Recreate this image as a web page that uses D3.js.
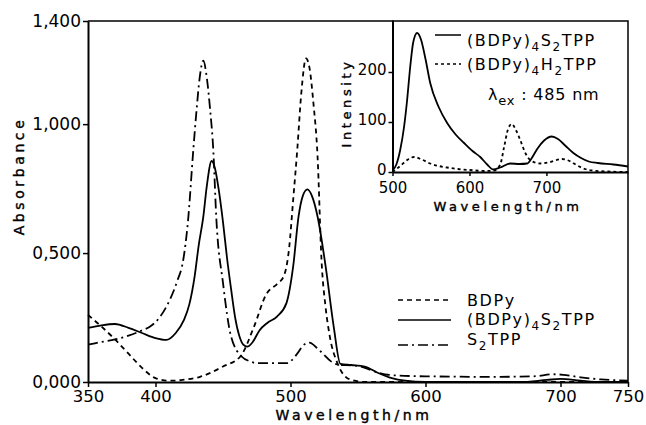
<!DOCTYPE html>
<html>
<head>
<meta charset="utf-8">
<script src="https://cdn.jsdelivr.net/npm/d3@7"></script>
<style>
  body { margin: 0; background: #fff; }
  svg { display: block; font-family: "DejaVu Sans", sans-serif; }
  .lbl { font-size: 14px; letter-spacing: 3.6px; stroke: #000; stroke-width: 0.4px; }
  .leg { font-size: 16px; letter-spacing: 1.6px; }
  .axis text { font-family: "DejaVu Sans", sans-serif; fill: #000; }
  .axis path, .axis line { stroke: #000; }
</style>
</head>
<body>
<div id="chart"></div>
<script>
// main plot: absorbance [wavelength nm, absorbance]
var bdpy = [[350,0.26],[360,0.215],[370,0.165],[380,0.11],[390,0.055],[400,0.015],[410,0.005],[420,0.008],
    [433,0.02],[450,0.06],[463,0.10],[473,0.215],[482,0.34],[490,0.38],[495,0.41],[499,0.52],[502,0.708],
    [505,0.90],[508,1.12],[511.5,1.255],[514,1.22],[517,1.08],[520,0.88],[523,0.47],[526,0.29],[529,0.18],
    [535,0.07],[544,0.01],[555,0.0],[650,0.0],[750,0.0]];
var bdpyS2tpp = [[350,0.21],[360,0.22],[370,0.225],[380,0.21],[390,0.19],[400,0.17],[408,0.163],[415,0.19],
    [421,0.24],[425,0.30],[429,0.41],[432,0.53],[435.4,0.64],[438,0.76],[441.6,0.857],[444,0.83],[447,0.74],
    [450,0.62],[453,0.48],[456,0.36],[459,0.25],[462,0.18],[465,0.145],[468,0.137],[472,0.155],[477,0.20],
    [483,0.23],[490,0.254],[497,0.306],[502,0.449],[506,0.643],[509,0.72],[512.5,0.747],[516,0.72],[520,0.643],
    [526,0.449],[532,0.215],[537,0.07],[545,0.066],[555,0.06],[565,0.035],[575,0.015],[585,0.005],[600,0.0],
    [670,0.0],[690,0.008],[700,0.012],[715,0.005],[730,0.0],[750,0.0]];
var s2tpp = [[350,0.145],[360,0.155],[370,0.165],[380,0.18],[390,0.2],[396,0.215],[403,0.25],[410.7,0.32],
    [416,0.39],[420.6,0.475],[424,0.62],[428,0.9],[430.5,1.06],[432.5,1.17],[435.4,1.246],[438,1.18],[440.4,1.06],
    [442.8,0.9],[445,0.64],[450,0.384],[456,0.176],[464,0.098],[470,0.08],[475,0.073],[497,0.073],[501,0.085],
    [505,0.11],[510,0.145],[514,0.153],[519,0.135],[524,0.11],[530,0.08],[537,0.066],[545,0.065],[552,0.06],
    [560,0.045],[570,0.03],[580,0.025],[600,0.022],[650,0.02],[680,0.022],[695,0.03],[702,0.028],[715,0.018],
    [730,0.01],[750,0.005]];

// inset: fluorescence intensity, excitation 485 nm
var insetS2tpp = [[500,3],[505,15],[510,44],[515,90],[519,144],[523,210],[527,260],[532,278],[537,265],
    [543,225],[549,178],[560,130],[571,98],[582,75],[593,58],[604,42],[614,30],[623,15],[631,5],[640,9],
    [653,17],[665,16],[675,17],[681,28],[688,46],[697,63],[707,71],[715,66],[725,52],[735,38],[745,28],
    [755,21],[767,18],[787,15],[806,11]];
var insetH2tpp = [[500,0],[510,12],[520,25],[528,30],[538,25],[549,17],[560,12],[571,9],[585,6],[600,4],
    [620,2],[632,3],[640,15],[645,50],[650,85],[655,96],[660,85],[666,64],[672,40],[677,27],[685,19],
    [692,17],[705,20],[720,26],[730,22],[739,14],[750,6],[760,3],[780,1],[806,0]];

var wlTicks = [350, 400, 500, 600, 700, 750],
    absTicks = [0, 0.5, 1.0, 1.4],
    insetWlTicks = [500, 600, 700],
    insetIntTicks = [0, 100, 200];

var legendMain = [
    {parts: [["BDPy"]], dash: "5,4", y: 300, ty: 306},
    {parts: [["(BDPy)"], ["4", 1], ["S"], ["2", 1], ["TPP"]], dash: null, y: 320, ty: 325},
    {parts: [["S"], ["2", 1], ["TPP"]], dash: "10,4,2,4", y: 345, ty: 345}
];
var legendInset = [
    {parts: [["(BDPy)"], ["4", 1], ["S"], ["2", 1], ["TPP"]], dash: null, y: 35, ty: 46},
    {parts: [["(BDPy)"], ["4", 1], ["H"], ["2", 1], ["TPP"]], dash: "3,3", y: 64, ty: 70}
];

var width = 646, height = 425;
var svg = d3.select("#chart").append("svg").attr("width", width).attr("height", height);

var x = d3.scaleLinear().domain([350, 750]).range([88, 628]),
    y = d3.scaleLinear().domain([0, 1.4]).range([382, 21]);

var xi = d3.scaleLinear().domain([500, 806]).range([392.5, 628]),
    yi = d3.scaleLinear().domain([0, 304]).range([172, 20]);

// frame (top + right)
svg.append("path")
    .attr("d", "M" + x(350) + "," + y(1.4) + "H" + x(750) + "V" + y(0))
    .attr("fill", "none").attr("stroke", "#000").attr("stroke-width", 1.5);

var xAxis = svg.append("g").attr("class", "axis")
    .attr("transform", "translate(0," + y(0) + ")")
    .call(d3.axisBottom(x).tickValues(wlTicks).tickSize(5).tickSizeOuter(0).tickPadding(3).tickFormat(d3.format("d")));
xAxis.selectAll("text").style("font-size", "16.5px");

var yAxis = svg.append("g").attr("class", "axis")
    .attr("transform", "translate(" + x(350) + ",0)")
    .call(d3.axisLeft(y).tickValues(absTicks).tickSize(5).tickSizeOuter(0).tickPadding(2)
        .tickFormat(function (d) { return d3.format(".3f")(d).replace(".", ","); }));
yAxis.selectAll("text").style("font-size", "17px");
svg.selectAll(".axis path").attr("stroke-width", 2);
svg.selectAll(".axis line").attr("stroke-width", 1.5);

svg.append("text").attr("class", "lbl")
    .attr("x", 354).attr("y", 420).attr("text-anchor", "middle").text("Wavelength/nm");
svg.append("text").attr("class", "lbl")
    .attr("transform", "translate(24,176) rotate(-90)").attr("text-anchor", "middle").text("Absorbance");

var line = d3.line().x(function (d) { return x(d[0]); }).y(function (d) { return y(d[1]); })
    .curve(d3.curveMonotoneX);

function curve(g, data, dash, ln) {
    g.append("path").datum(data)
        .attr("d", ln)
        .attr("fill", "none").attr("stroke", "#000").attr("stroke-width", 1.8)
        .attr("stroke-dasharray", dash);
}
curve(svg, bdpy, "5,4", line);
curve(svg, bdpyS2tpp, null, line);
curve(svg, s2tpp, "10,4,2,4", line);

// text with subscripts: parts = [[text, isSub]]
function richText(g, px, py, parts, size) {
    var t = g.append("text").attr("class", "leg").attr("x", px).attr("y", py).style("font-size", size + "px");
    var prevSub = false;
    parts.forEach(function (p) {
        var s = t.append("tspan").text(p[0]);
        if (p[1]) s.attr("dy", 5).style("font-size", (size - 4) + "px");
        else if (prevSub) s.attr("dy", -5);
        prevSub = !!p[1];
    });
    return t;
}

legendMain.forEach(function (d) {
    svg.append("line").attr("x1", 398).attr("x2", 451).attr("y1", d.y).attr("y2", d.y)
        .attr("stroke", "#000").attr("stroke-width", 1.5).attr("stroke-dasharray", d.dash);
    richText(svg, 467, d.ty, d.parts, 16);
});

// inset
var inset = svg.append("g");
var xiAxis = inset.append("g").attr("class", "axis")
    .attr("transform", "translate(0," + yi(0) + ")")
    .call(d3.axisBottom(xi).tickValues(insetWlTicks).tickSize(4).tickSizeOuter(0).tickPadding(6).tickFormat(d3.format("d")));
xiAxis.selectAll("text").style("font-size", "15px");
var yiAxis = inset.append("g").attr("class", "axis")
    .attr("transform", "translate(" + xi(500) + ",0)")
    .call(d3.axisLeft(yi).tickValues(insetIntTicks).tickSize(4).tickSizeOuter(0).tickPadding(2).tickFormat(d3.format("d")));
yiAxis.selectAll("text").style("font-size", "15px").attr("dy", "0.18em");
inset.selectAll(".axis path").attr("stroke-width", 2);
inset.selectAll(".axis line").attr("stroke-width", 1.5);

inset.append("text").attr("class", "lbl").style("font-size", "13px")
    .attr("x", 508).attr("y", 211).attr("text-anchor", "middle").text("Wavelength/nm");
inset.append("text").attr("class", "lbl").style("font-size", "13px")
    .attr("transform", "translate(351,103) rotate(-90)").attr("text-anchor", "middle").text("Intensity");

var lineI = d3.line().x(function (d) { return xi(d[0]); }).y(function (d) { return yi(d[1]); })
    .curve(d3.curveMonotoneX);
curve(inset, insetS2tpp, null, lineI);
curve(inset, insetH2tpp, "3,3", lineI);

legendInset.forEach(function (d) {
    inset.append("line").attr("x1", 435).attr("x2", 461).attr("y1", d.y).attr("y2", d.y)
        .attr("stroke", "#000").attr("stroke-width", 1.5).attr("stroke-dasharray", d.dash);
    richText(inset, 467, d.ty, d.parts, 16);
});
var lam = inset.append("text").attr("class", "leg").attr("x", 488).attr("y", 100)
    .style("font-size", "16px").style("letter-spacing", "0.8px");
lam.append("tspan").text("λ");
lam.append("tspan").attr("dy", 5).style("font-size", "13px").text("ex");
lam.append("tspan").attr("dy", -5).text(" : 485 nm");
</script>
</body>
</html>
